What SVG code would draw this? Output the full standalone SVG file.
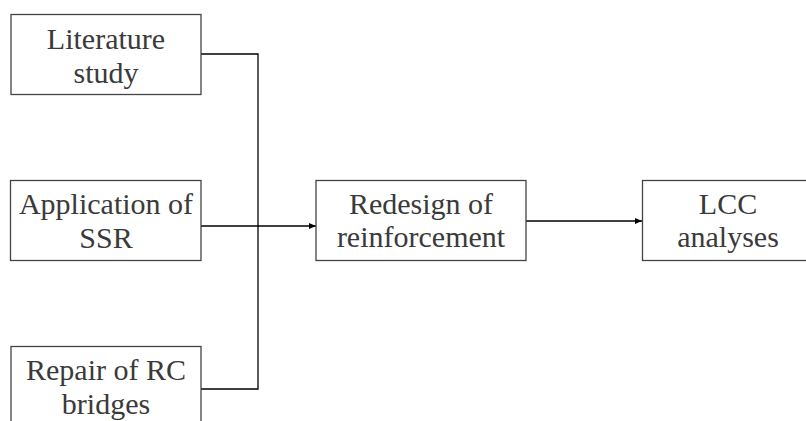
<svg xmlns="http://www.w3.org/2000/svg" width="806" height="421" viewBox="0 0 806 421">
<style>
.box{fill:#fff;stroke:#444;stroke-width:1.3}
.con{fill:none;stroke:#000;stroke-width:1.3}
</style>
<defs>
<marker id="ah" markerWidth="8" markerHeight="6" refX="7" refY="3" orient="auto" markerUnits="userSpaceOnUse">
<path d="M0,0 L7,3 L0,6 Z" fill="#000"/>
</marker>
</defs>
<rect width="806" height="421" fill="#fff"/>
<g id="connectors">
<path class="con" d="M201,54 H258 V389 H201"/>
<path class="con" d="M201,226 H316" marker-end="url(#ah)"/>
<path class="con" d="M526,221 H642" marker-end="url(#ah)"/>
</g>
<g fill="#3a3a3a" text-anchor="middle">
<g id="literature">
<rect class="box" x="11" y="14.5" width="190" height="80"/>
<text font-family="Liberation Serif" font-size="30" x="106" y="49">Literature</text>
<text font-family="Liberation Serif" font-size="30" x="106" y="83">study</text>
</g>
<g id="application">
<rect class="box" x="10.5" y="180.5" width="190.5" height="80"/>
<text font-family="Liberation Serif" font-size="30" x="106" y="214">Application of</text>
<text font-family="Liberation Serif" font-size="30" x="106" y="248">SSR</text>
</g>
<g id="repair">
<rect class="box" x="11" y="346.5" width="190" height="82"/>
<text font-family="Liberation Serif" font-size="30" x="106" y="380">Repair of RC</text>
<text font-family="Liberation Serif" font-size="30" x="106" y="414">bridges</text>
</g>
<g id="redesign">
<rect class="box" x="316" y="180.5" width="210" height="80"/>
<text font-family="Liberation Serif" font-size="30" x="421" y="213.5">Redesign of</text>
<text font-family="Liberation Serif" font-size="30" x="421" y="247">reinforcement</text>
</g>
<g id="lcc">
<rect class="box" x="642.5" y="180.5" width="172" height="80"/>
<text font-family="Liberation Serif" font-size="30" x="728" y="213.5">LCC</text>
<text font-family="Liberation Serif" font-size="30" x="728" y="247">analyses</text>
</g>
</g>
</svg>
